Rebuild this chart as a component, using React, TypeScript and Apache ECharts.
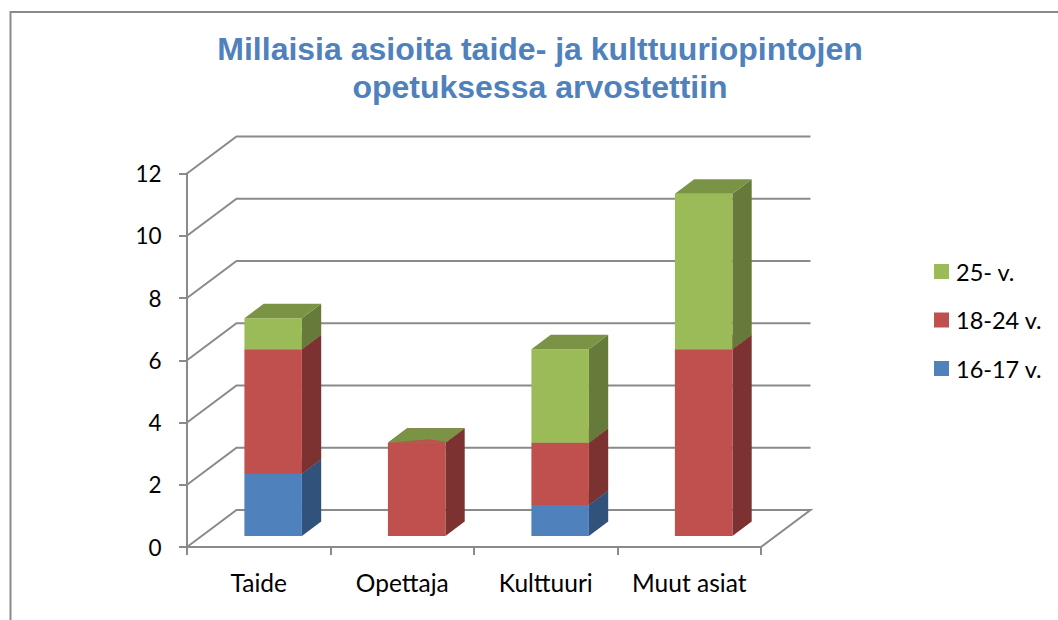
import React, { useEffect, useRef } from "react";
import * as echarts from "echarts";

const categories = ["Taide", "Opettaja", "Kulttuuri", "Muut asiat"];
const youngest = [2, 0, 1, 0];
const middle = [4, 3, 2, 6];
const oldest = [1, 0, 3, 5];
const wallTicks = [0, 2, 4, 6, 8, 10, 12];
const titleText = "Millaisia asioita taide- ja kulttuuriopintojen\nopetuksessa arvostettiin";

const WALL_DX = 49.5;
const WALL_DY = 37;
const FLOOR_DX = 14.4;
const FLOOR_DY = 11;
const BAR_W = 57.5;
const BAR_DX = 19.3;
const BAR_DY = 14.5;
const GREY = "#8a8a8a";

function wallItem(params: any, api: any) {
  const v = api.value(0);
  const [x0, y] = api.coord([0, v]);
  const size = api.size([1, 0]);
  const left = x0 - size[0] / 2;
  const right = left + size[0] * categories.length;
  const children: any[] = [
    {
      type: "polyline",
      shape: {
        points: v === 0
          ? [[left, y], [left + WALL_DX, y - WALL_DY], [right + WALL_DX, y - WALL_DY], [right, y]]
          : [[left, y], [left + WALL_DX, y - WALL_DY], [right + WALL_DX, y - WALL_DY]],
      },
      style: { stroke: GREY, lineWidth: 2, fill: "none" },
    },
  ];
  return { type: "group", children };
}

function barItem(colors: { front: string; side: string; top: string }, sliver: string | null) {
  return (params: any, api: any) => {
    const cat = api.value(0);
    const topV = api.value(1);
    const baseV = api.value(2);
    const topP = api.coord([cat, topV]);
    const baseP = api.coord([cat, baseV]);
    const xl = topP[0] + FLOOR_DX - BAR_W / 2;
    const xr = xl + BAR_W;
    const yt = topP[1] - FLOOR_DY;
    const yb = baseP[1] - FLOOR_DY;
    const children: any[] = [];
    if (topV > baseV) {
      children.push({
        type: "polygon",
        shape: { points: [[xr, yt], [xr + BAR_DX, yt - BAR_DY], [xr + BAR_DX, yb - BAR_DY], [xr, yb]] },
        style: { fill: colors.side },
      });
      children.push({
        type: "polygon",
        shape: { points: [[xl, yt], [xr, yt], [xr, yb], [xl, yb]] },
        style: { fill: colors.front },
      });
    }
    const isTopmost = topV === baseV ? sliver !== null : true;
    if (isTopmost && topV > 0) {
      children.push({
        type: "polygon",
        shape: { points: [[xl, yt], [xl + BAR_DX, yt - BAR_DY], [xr + BAR_DX, yt - BAR_DY], [xr, yt]] },
        style: { fill: colors.top },
      });
      if (topV === baseV && sliver) {
        children.push({
          type: "polygon",
          shape: { points: [[xl, yt], [xl + BAR_W * 0.72, yt - 3.5], [xr, yt - 1], [xr, yt]] },
          style: { fill: sliver },
        });
      }
    }
    return { type: "group", children };
  };
}

function stacked(values: number[], below: number[][]) {
  return values.map((v, i) => {
    const base = below.reduce((s, arr) => s + arr[i], 0);
    return [i, base + v, base];
  });
}

export default function App() {
  const ref = useRef<HTMLDivElement>(null);
  useEffect(() => {
    document.body.style.margin = "0";
    const chart = echarts.init(ref.current!, null, { renderer: "svg" });
    const font = "Lato";
    chart.setOption({
      animation: false,
      backgroundColor: "#ffffff",
      title: {
        text: titleText,
        left: 540,
        top: 30,
        padding: 0,
        textAlign: "center",
        textStyle: {
          fontFamily: "Liberation Sans",
          fontWeight: "bold",
          fontSize: 32,
          lineHeight: 38,
          color: "#4f81bd",
        },
      },
      grid: { left: 187, top: 173.5, width: 574, height: 373.5 },
      legend: {
        orient: "vertical",
        left: 934,
        top: 259,
        padding: 0,
        icon: "rect",
        itemWidth: 15,
        itemHeight: 15,
        itemGap: 23.5,
        selectedMode: false,
        data: ["25- v.", "18-24 v.", "16-17 v."],
        textStyle: { fontFamily: font, fontSize: 23.5, color: "#000000", padding: [0, 0, 0, 2], lineHeight: 25 },
      },
      xAxis: {
        type: "category",
        data: categories,
        axisLine: { lineStyle: { color: GREY, width: 2 } },
        axisTick: { show: true, length: 8, interval: 0, alignWithLabel: false, lineStyle: { color: GREY, width: 2 } },
        axisLabel: { fontFamily: font, fontSize: 24.5, color: "#000000", margin: 23, interval: 0, hideOverlap: false },
        splitLine: { show: false },
      },
      yAxis: {
        type: "value",
        min: 0,
        max: 12,
        interval: 2,
        axisLine: { show: true, lineStyle: { color: GREY, width: 2 } },
        axisTick: { show: true, length: 8, lineStyle: { color: GREY, width: 2 } },
        axisLabel: { fontFamily: font, fontSize: 22.5, color: "#000000", margin: 25.5 },
        splitLine: { show: false },
      },
      series: [
        {
          type: "custom",
          name: "wall",
          data: wallTicks.map((t) => [t]),
          encode: { y: 0 },
          renderItem: wallItem,
          silent: true,
          z: 1,
        },
        {
          type: "custom",
          name: "16-17 v.",
          data: stacked(youngest, []),
          encode: { x: 0, y: 1 },
          itemStyle: { color: "#4f81bd" },
          renderItem: barItem({ front: "#4f81bd", side: "#31527a", top: "#3d6593" }, null),
          z: 2,
        },
        {
          type: "custom",
          name: "18-24 v.",
          data: stacked(middle, [youngest]),
          encode: { x: 0, y: 1 },
          itemStyle: { color: "#c0504d" },
          renderItem: barItem({ front: "#c0504d", side: "#7b3230", top: "#963e3c" }, null),
          z: 3,
        },
        {
          type: "custom",
          name: "25- v.",
          data: stacked(oldest, [youngest, middle]),
          encode: { x: 0, y: 1 },
          itemStyle: { color: "#9bbb59" },
          renderItem: barItem({ front: "#9bbb59", side: "#667a39", top: "#7a9345" }, "#c0504d"),
          z: 4,
        },
      ],
      graphic: [
        {
          type: "polyline",
          shape: { points: [[10.5, 620], [10.5, 12], [1058, 12]] },
          style: { stroke: GREY, lineWidth: 2, fill: "none" },
          silent: true,
        },
      ],
    });
    return () => chart.dispose();
  }, []);
  return <div ref={ref} style={{ width: 1058, height: 620 }} />;
}
